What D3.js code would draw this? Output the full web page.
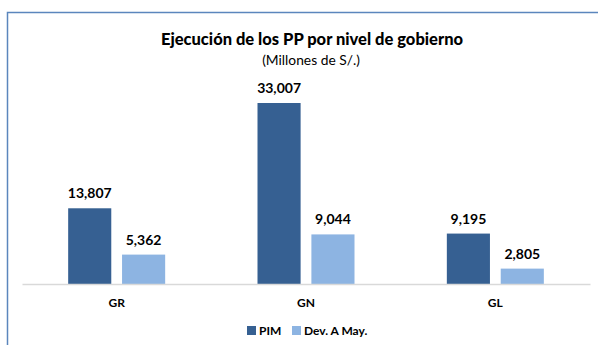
<!DOCTYPE html>
<html>
<head>
<meta charset="utf-8">
<script src="https://cdn.jsdelivr.net/npm/d3@7"></script>
<style>
  html, body { margin: 0; padding: 0; background: #fff; }
  svg { display: block; font-family: Lato, "Open Sans", sans-serif; }
</style>
</head>
<body>
<svg id="chart" width="598" height="345"></svg>
<script>
// Ejecución de los PP por nivel de gobierno (millones de S/.)
const categories = ["GR", "GN", "GL"];
const seriesNames = ["PIM", "Dev. A May."];
const pim = [13807, 33007, 9195];
const devMay = [5362, 9044, 2805];
const colors = ["#366092", "#8db4e2"];

const svg = d3.select("#chart");
const W = 598, H = 345;

// Chart frame
svg.append("rect")
  .attr("x", 7.5).attr("y", 12.5)
  .attr("width", W).attr("height", H)
  .attr("fill", "none").attr("stroke", "#5b86bd").attr("stroke-width", 1.5);

// Title
svg.append("text")
  .attr("x", 312).attr("y", 45)
  .attr("text-anchor", "middle")
  .attr("font-size", 16.5).attr("font-weight", "900").attr("fill", "#000")
  .text("Ejecución de los PP por nivel de gobierno");
svg.append("text")
  .attr("x", 311).attr("y", 65)
  .attr("text-anchor", "middle")
  .attr("font-size", 13.8).attr("fill", "#000")
  .text("(Millones de S/.)");

const plot = { left: 22, right: 590, baseline: 284 };

const x0 = d3.scaleBand().domain(categories).range([plot.left, plot.right]);
const x1 = d3.scaleBand().domain(seriesNames).range([0, 97]).paddingInner(0.2);
const y = d3.scaleLinear().domain([0, 33007]).range([plot.baseline, 103]);

const rows = categories.map((c, i) => ({ cat: c, values: [pim[i], devMay[i]] }));
const fmt = d3.format(",");

const groups = svg.append("g").selectAll("g").data(rows).join("g")
  .attr("transform", d => `translate(${x0(d.cat) + x0.bandwidth() / 2 - 48.5},0)`);

groups.selectAll("rect").data(d => d.values.map((v, j) => ({ v, s: seriesNames[j], j })))
  .join("rect")
  .attr("x", d => x1(d.s))
  .attr("width", x1.bandwidth())
  .attr("y", d => y(d.v))
  .attr("height", d => y(0) - y(d.v))
  .attr("fill", d => colors[d.j]);

groups.selectAll("text.val").data(d => d.values.map((v, j) => ({ v, s: seriesNames[j] })))
  .join("text").attr("class", "val")
  .attr("x", d => x1(d.s) + x1.bandwidth() / 2)
  .attr("y", d => y(d.v) - 10)
  .attr("text-anchor", "middle")
  .attr("font-size", 14).attr("font-weight", "bold").attr("fill", "#000")
  .text(d => fmt(d.v));

// Category axis
const xAxis = svg.append("g")
  .attr("transform", `translate(0,${plot.baseline})`)
  .call(d3.axisBottom(x0).tickSize(0).tickPadding(14));
xAxis.select(".domain").attr("stroke", "#d9d9d9").attr("stroke-width", 1.5);
xAxis.selectAll("text")
  .attr("font-family", "Lato, 'Open Sans', sans-serif")
  .attr("font-size", 12).attr("font-weight", "bold").attr("fill", "#000");

// Legend
const legendX = [247, 292];
const legend = svg.append("g").selectAll("g").data(seriesNames).join("g")
  .attr("transform", (d, i) => `translate(${legendX[i]},326)`);
legend.append("rect").attr("width", 9).attr("height", 9).attr("fill", (d, i) => colors[i]);
legend.append("text")
  .attr("x", 12).attr("y", 9)
  .attr("font-size", 12).attr("font-weight", "bold").attr("fill", "#000")
  .text(d => d);
</script>
</body>
</html>
